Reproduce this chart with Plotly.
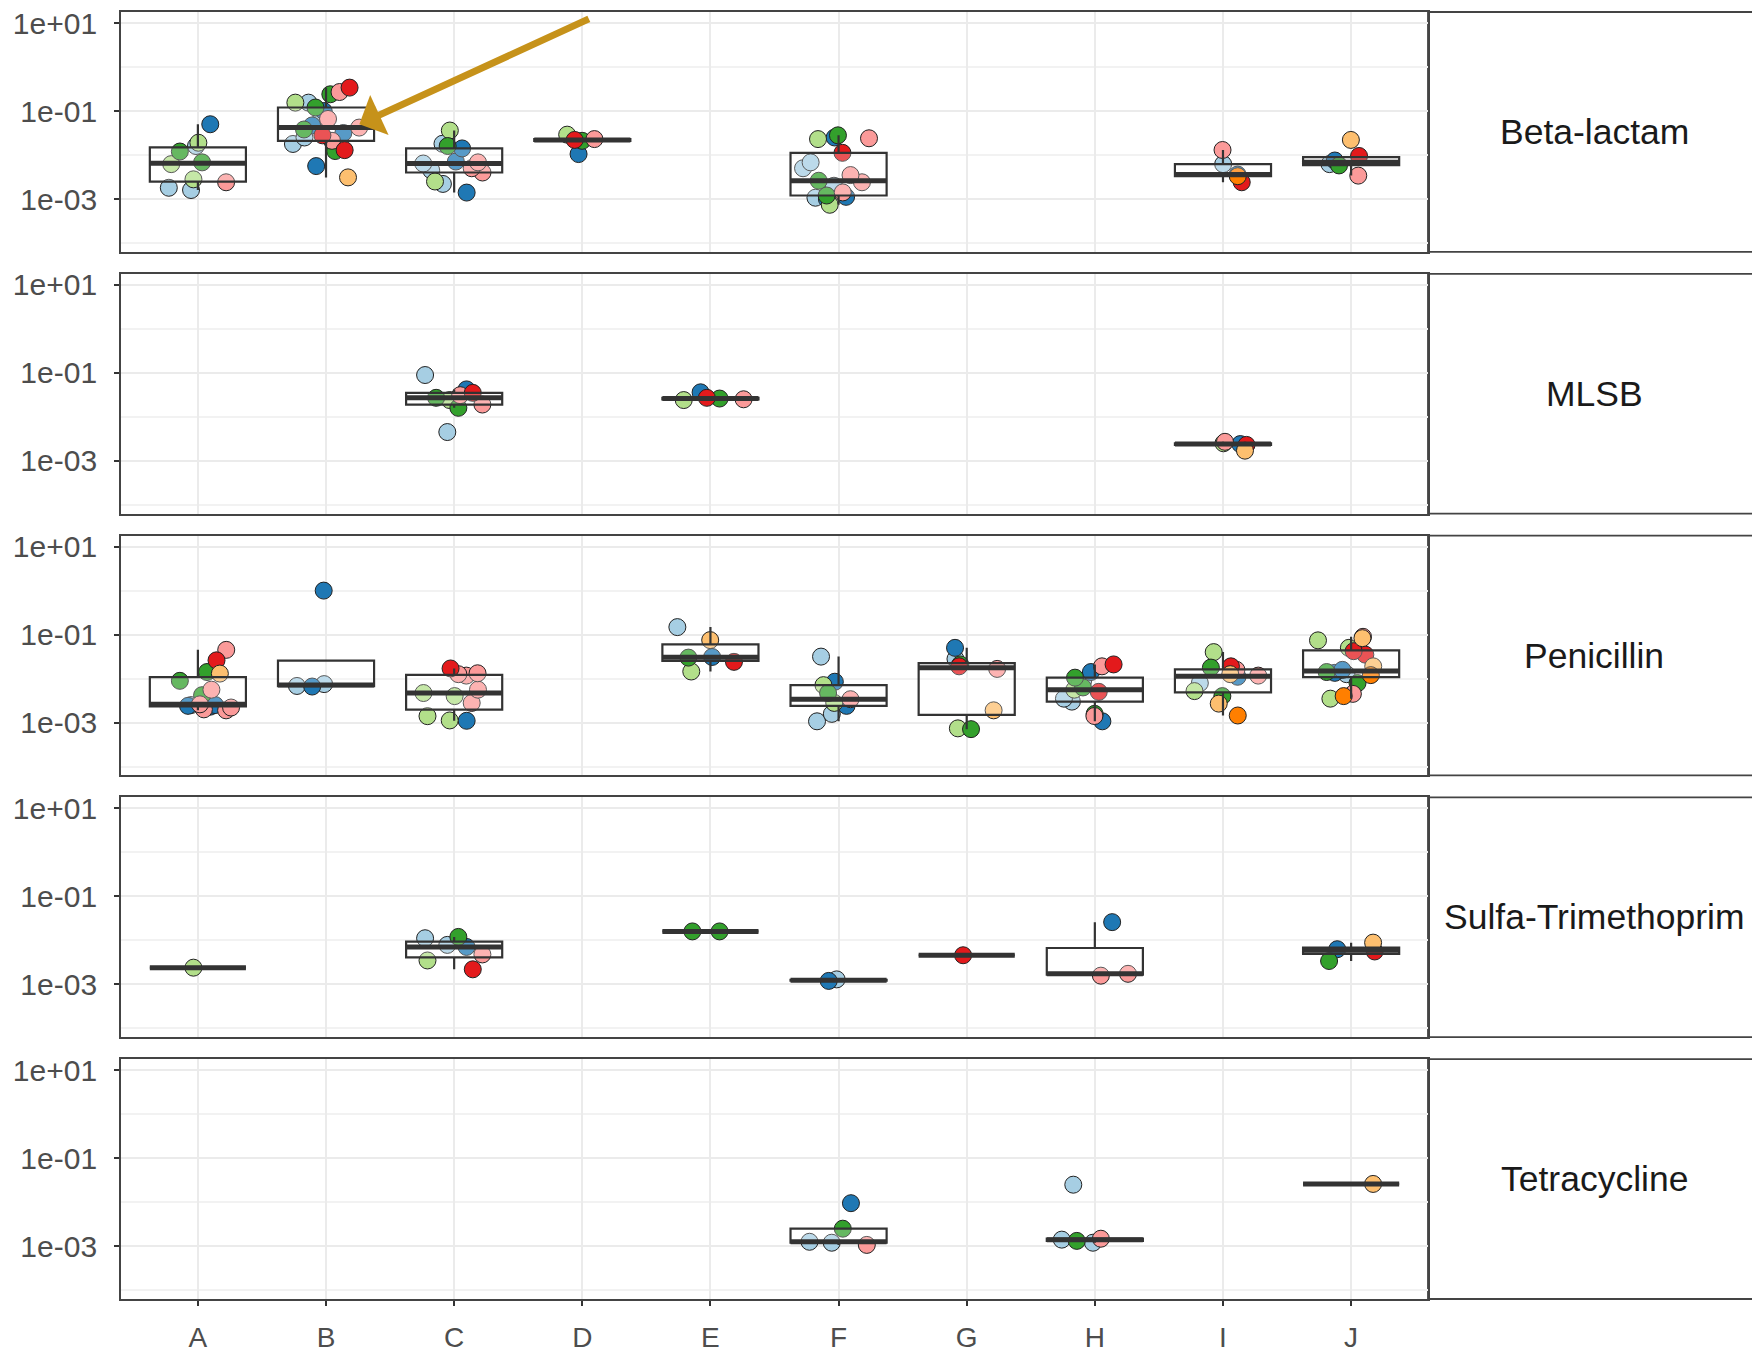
import numpy as np
import plotly.graph_objects as go
from plotly.subplots import make_subplots

# ---------------- data ----------------
categories = ["A", "B", "C", "D", "E", "F", "G", "H", "I", "J"]
panel_names = ["Beta-lactam", "MLSB", "Penicillin", "Sulfa-Trimethoprim", "Tetracycline"]
y_tick_values = [10.0, 0.1, 0.001]
y_tick_labels = ["1e+01", "1e-01", "1e-03"]
y_minor_values = [1.0, 0.01, 0.0001]

group_colors = {
    "lb": "#A6CEE3", "db": "#1F78B4", "lg": "#B2DF8A", "dg": "#33A02C",
    "pk": "#FB9A99", "rd": "#E31A1C", "lo": "#FDBF6F", "or": "#FF7F00",
}

beta_cat = ["A"] * 10 + ["B"] * 21 + ["C"] * 13 + ["D"] * 5 + ["F"] * 17 + ["I"] * 5 + ["J"] * 6
beta_grp = ["lb", "lb", "pk", "lg", "lg", "dg", "dg", "lb", "lg", "db",
            "lo", "db", "dg", "rd", "lb", "pk", "lb", "rd", "db", "dg", "pk", "db", "lb", "pk", "db", "dg", "lg", "lb", "dg", "pk", "rd",
            "db", "lb", "lg", "pk", "lb", "pk", "lb", "pk", "db", "db", "dg", "lb", "lg",
            "db", "dg", "rd", "pk", "lg",
            "lg", "db", "lb", "db", "dg", "pk", "lb", "pk", "dg", "pk", "lb", "lb", "rd", "lg", "pk", "db", "dg",
            "rd", "or", "db", "lb", "pk",
            "pk", "dg", "lb", "db", "rd", "lo"]
beta_val = [0.0016, 0.0018, 0.0024, 0.0028, 0.0062, 0.0068, 0.012, 0.016, 0.019, 0.05,
            0.0031, 0.0056, 0.0123, 0.0129, 0.0178, 0.021, 0.025, 0.028, 0.0316, 0.038, 0.042, 0.047, 0.056, 0.066, 0.1, 0.12, 0.155, 0.155, 0.24, 0.27, 0.34,
            0.0014, 0.0022, 0.0025, 0.004, 0.0045, 0.005, 0.0064, 0.0068, 0.0071, 0.0141, 0.016, 0.018, 0.036,
            0.0105, 0.021, 0.022, 0.023, 0.029,
            0.00074, 0.001, 0.00107, 0.00112, 0.0012, 0.00141, 0.002, 0.0024, 0.0026, 0.0035, 0.005, 0.0068, 0.0112, 0.023, 0.024, 0.025, 0.028,
            0.0024, 0.0033, 0.0036, 0.0062, 0.013,
            0.0034, 0.0058, 0.0062, 0.0075, 0.0095, 0.022]

mlsb_cat = ["C"] * 9 + ["E"] * 5 + ["I"] * 5
mlsb_grp = ["lb", "dg", "pk", "lg", "dg", "pk", "rd", "db", "lb",
            "lg", "pk", "dg", "rd", "db",
            "lo", "rd", "db", "lg", "pk"]
mlsb_val = [0.0045, 0.016, 0.019, 0.024, 0.027, 0.031, 0.035, 0.042, 0.089,
            0.024, 0.025, 0.026, 0.027, 0.036,
            0.0017, 0.0023, 0.0024, 0.0025, 0.0027]

peni_cat = ["A"] * 15 + ["B"] * 4 + ["C"] * 11 + ["E"] * 6 + ["F"] * 9 + ["G"] * 8 + ["H"] * 13 + ["I"] * 12 + ["J"] * 16
peni_grp = ["pk", "pk", "pk", "db", "db", "lb", "db", "pk", "dg", "pk", "dg", "lo", "dg", "rd", "pk",
            "db", "lb", "lb", "db",
            "db", "lg", "lg", "pk", "lg", "lg", "pk", "pk", "pk", "pk", "rd",
            "lg", "rd", "dg", "db", "lo", "lb",
            "lb", "lb", "db", "lg", "pk", "dg", "lg", "db", "lb",
            "dg", "lg", "lo", "pk", "rd", "dg", "lb", "db",
            "db", "pk", "dg", "lb", "lb", "rd", "lg", "dg", "lb", "dg", "db", "pk", "rd",
            "or", "lo", "dg", "lg", "lb", "db", "pk", "lo", "pk", "dg", "rd", "lg",
            "lg", "or", "pk", "dg", "or", "lb", "db", "dg", "db", "lo", "rd", "rd", "lg", "lg", "lo", "pk"]
peni_val = [0.0019, 0.002, 0.0022, 0.0023, 0.0024, 0.0025, 0.0025, 0.0026, 0.0042, 0.0056, 0.0089, 0.013, 0.0141, 0.026, 0.045,
            0.0066, 0.0068, 0.0075, 1.0,
            0.0011, 0.00112, 0.0014, 0.0028, 0.004, 0.0047, 0.0056, 0.0117, 0.0126, 0.0132, 0.017,
            0.0145, 0.024, 0.030, 0.031, 0.075, 0.148,
            0.00107, 0.00158, 0.0024, 0.0028, 0.0034, 0.0047, 0.0071, 0.0085, 0.0316,
            0.00071, 0.00074, 0.0019, 0.0166, 0.019, 0.021, 0.028, 0.05,
            0.00107, 0.00141, 0.00158, 0.003, 0.0035, 0.005, 0.0056, 0.0063, 0.0089, 0.0105, 0.0141, 0.019, 0.021,
            0.00145, 0.0027, 0.004, 0.0052, 0.0079, 0.011, 0.0117, 0.0126, 0.0158, 0.0178, 0.019, 0.04,
            0.0035, 0.004, 0.0045, 0.0079, 0.012, 0.0126, 0.0135, 0.0141, 0.0158, 0.019, 0.035, 0.042, 0.05, 0.074, 0.083, 0.089]

sulfa_cat = ["A"] + ["C"] * 7 + ["E"] * 2 + ["F"] * 2 + ["G"] + ["H"] * 3 + ["J"] * 4
sulfa_grp = ["lg",
             "rd", "lg", "pk", "db", "lb", "lb", "dg",
             "dg", "dg",
             "db", "lb",
             "rd",
             "pk", "pk", "db",
             "dg", "rd", "db", "lo"]
sulfa_val = [0.0024,
             0.0022, 0.0035, 0.0048, 0.0071, 0.0079, 0.0112, 0.012,
             0.016, 0.016,
             0.0012, 0.0013,
             0.0046,
             0.00158, 0.00174, 0.026,
             0.0034, 0.0056, 0.0063, 0.0089]

tetra_cat = ["F"] * 5 + ["H"] * 5 + ["J"]
tetra_grp = ["pk", "lb", "lb", "dg", "db",
             "lb", "dg", "lb", "pk", "lb",
             "lo"]
tetra_val = [0.00107, 0.0012, 0.00126, 0.0025, 0.0095,
             0.0012, 0.00132, 0.00141, 0.00148, 0.025,
             0.026]

panels = [
    (beta_cat, beta_grp, beta_val),
    (mlsb_cat, mlsb_grp, mlsb_val),
    (peni_cat, peni_grp, peni_val),
    (sulfa_cat, sulfa_grp, sulfa_val),
    (tetra_cat, tetra_grp, tetra_val),
]

# ---------------- styling ----------------
FONT = "Liberation Sans, Arial, Helvetica, sans-serif"
W, H = 1752, 1354
ML, MR, MT, MB = 121, 324, 12, 55
PW = W - ML - MR
PH = H - MT - MB
GAP = 22
BOX_W = 0.75
point_pos = {"lb": -0.35, "db": 0.05, "lg": -0.3, "dg": -0.12,
             "pk": 0.38, "rd": 0.18, "lo": 0.25, "or": 0.1}

fig = make_subplots(rows=5, cols=1, shared_xaxes=True, vertical_spacing=GAP / PH)

cat_index = {c: i for i, c in enumerate(categories)}

for r, (cats, grps, vals) in enumerate(panels, start=1):
    cats = np.array(cats)
    grps = np.array(grps)
    logv = np.log10(np.array(vals, dtype=float))
    xs = np.array([cat_index[c] for c in cats])

    # jittered points (drawn first, boxes overlay them)
    for g in group_colors:
        m = grps == g
        if not m.any():
            continue
        fig.add_trace(go.Box(
            x=xs[m], y=logv[m], boxpoints="all", jitter=0.4, pointpos=point_pos[g],
            width=BOX_W, fillcolor="rgba(0,0,0,0)",
            line=dict(width=0, color="rgba(0,0,0,0)"),
            marker=dict(color=group_colors[g], size=17, line=dict(color="#222222", width=1)),
            showlegend=False, hoverinfo="skip",
        ), row=r, col=1)

    # box statistics computed ggplot-style on the log scale
    pos, q1s, meds, q3s, lfs, ufs = [], [], [], [], [], []
    for c in categories:
        m = cats == c
        if not m.any():
            continue
        l = logv[m]
        q1, med, q3 = np.percentile(l, [25, 50, 75])
        iqr = q3 - q1
        lf = l[l >= q1 - 1.5 * iqr].min()
        uf = l[l <= q3 + 1.5 * iqr].max()
        pos.append(cat_index[c]); q1s.append(q1); meds.append(med); q3s.append(q3)
        lfs.append(lf); ufs.append(uf)

    fig.add_trace(go.Box(
        x=pos, q1=q1s, median=meds, q3=q3s, lowerfence=lfs, upperfence=ufs,
        width=BOX_W, whiskerwidth=0, boxpoints=False,
        fillcolor="rgba(255,255,255,0.25)", line=dict(color="#333333", width=2.2),
        showlegend=False, hoverinfo="skip",
    ), row=r, col=1)
    # thicker median bar
    fig.add_trace(go.Box(
        x=pos, q1=meds, median=meds, q3=meds, lowerfence=meds, upperfence=meds,
        width=BOX_W, whiskerwidth=0, boxpoints=False,
        fillcolor="rgba(0,0,0,0)", line=dict(color="#333333", width=5),
        showlegend=False, hoverinfo="skip",
    ), row=r, col=1)

axis_line = dict(showline=True, mirror=True, linecolor="#444444", linewidth=1.8)
for r in range(1, 6):
    fig.update_yaxes(
        range=[-4.2, 1.25], tickmode="array", automargin=False,
        tickvals=list(np.log10(y_tick_values)), ticktext=y_tick_labels,
        ticks="outside", ticklen=5, tickwidth=1.5, tickcolor="#333333",
        tickfont=dict(family=FONT, size=30, color="#4D4D4D"), ticklabelstandoff=11,
        showgrid=True, gridcolor="#EBEBEB", gridwidth=2, zeroline=False,
        minor=dict(tickmode="array", tickvals=list(np.log10(y_minor_values)),
                   showgrid=True, gridcolor="#F2F2F2", gridwidth=1.5, ticks=""),
        **axis_line, row=r, col=1)
    fig.update_xaxes(
        range=[-0.6, 9.6], tickmode="array", tickvals=list(range(len(categories))),
        ticktext=categories, showgrid=True, gridcolor="#EBEBEB", gridwidth=2,
        zeroline=False, ticks="outside" if r == 5 else "", ticklen=5, tickwidth=1.5,
        tickcolor="#333333", tickfont=dict(family=FONT, size=28, color="#4D4D4D"),
        ticklabelstandoff=7, automargin=False,
        **axis_line, row=r, col=1)

# strips on the right
shapes = []
annotations = []
for r, name in enumerate(panel_names, start=1):
    yax = fig.layout["yaxis" if r == 1 else f"yaxis{r}"]
    y0, y1 = yax.domain
    shapes.append(dict(type="rect", xref="paper", yref="paper", x0=1.0, x1=1.35,
                       y0=y0, y1=y1, line=dict(color="#444444", width=1.8),
                       fillcolor="white", layer="below"))
    annotations.append(dict(xref="paper", yref="paper", x=(1594 - ML) / PW, y=(y0 + y1) / 2,
                            text=name, showarrow=False, xanchor="center", yanchor="middle",
                            font=dict(family=FONT, size=35.5, color="#1A1A1A")))

# highlight arrow on Beta-lactam / B
annotations.append(dict(xref="x", yref="y", x=1.26, y=-1.3, ax=231, ay=-106,
                        text="", showarrow=True, arrowhead=1, arrowsize=1.05,
                        arrowwidth=7, arrowcolor="#C6921A", standoff=0))
# cropped title (only the descender is visible)
annotations.append(dict(xref="paper", yref="paper", x=(709 - ML) / PW, y=1 + 16 / PH,
                        text="p", showarrow=False, xanchor="left", yanchor="bottom",
                        borderpad=0, font=dict(family=FONT, size=34, color="#000000")))

fig.update_layout(
    width=W, height=H, margin=dict(l=ML, r=MR, t=MT, b=MB, autoexpand=False),
    plot_bgcolor="white", paper_bgcolor="white", boxmode="overlay",
    shapes=shapes, annotations=annotations, showlegend=False,
    font=dict(family=FONT),
)

fig.write_html("out.html")
